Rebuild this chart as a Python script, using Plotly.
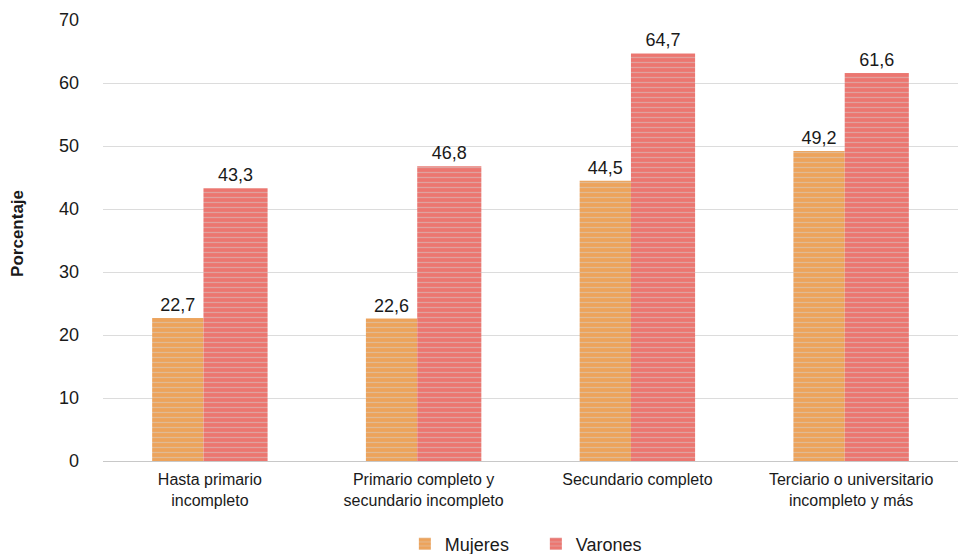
import plotly.graph_objects as go

categorias = ["Hasta primario<br>incompleto",
              "Primario completo y<br>secundario incompleto",
              "Secundario completo",
              "Terciario o universitario<br>incompleto y más"]
mujeres = [22.7, 22.6, 44.5, 49.2]
varones = [43.3, 46.8, 64.7, 61.6]
y_ticks = [0, 10, 20, 30, 40, 50, 60, 70]

fig = go.Figure()

fig.add_trace(go.Bar(
    x=categorias, y=mujeres, name="Mujeres",
    width=0.24, offset=-0.27,
    marker=dict(color="#EDA35B", line=dict(width=0),
                pattern=dict(shape="-", fgcolor="#d6d2cc", size=5, solidity=0.25)),
    texttemplate="%{y:.1f}", textposition="outside",
    textfont=dict(size=18, color="#1a1a1a"), cliponaxis=False,
))
fig.add_trace(go.Bar(
    x=categorias, y=varones, name="Varones",
    width=0.30, offset=-0.03,
    marker=dict(color="#EC7670", line=dict(width=0),
                pattern=dict(shape="-", fgcolor="#d4cccc", size=5, solidity=0.25)),
    texttemplate="%{y:.1f}", textposition="outside",
    textfont=dict(size=18, color="#1a1a1a"), cliponaxis=False,
))

# page has an 8px body margin, so the figure is sized to fit the window
fig.update_layout(
    width=958, height=546,
    barmode="overlay",
    separators=",.",
    plot_bgcolor="white", paper_bgcolor="white",
    font=dict(family="Liberation Sans, Arial, sans-serif", size=16, color="#1a1a1a"),
    margin=dict(l=95, r=8, t=12, b=93),
    legend=dict(orientation="h", x=0.551, xanchor="center", xref="container",
                y=0.018, yanchor="middle", yref="container",
                font=dict(size=18), traceorder="normal",
                entrywidth=86, entrywidthmode="pixels"),
    showlegend=True,
)
fig.add_annotation(text="<b>Porcentaje</b>", textangle=-90, showarrow=False,
                   xref="paper", yref="paper", x=-0.0994, y=0.515,
                   xanchor="center", yanchor="middle", font=dict(size=17))
fig.update_xaxes(showgrid=False, showline=True, linecolor="#c8c8c8", linewidth=1,
                 tickfont=dict(size=16), ticks="", automargin=False,
                 ticklabelstandoff=4)
fig.update_yaxes(range=[0, 70], tickvals=y_ticks, showgrid=True, gridcolor="#dcdcdc",
                 zeroline=False, showline=False, tickfont=dict(size=18),
                 ticklabelstandoff=23, automargin=False)

fig.write_html("out.html")
